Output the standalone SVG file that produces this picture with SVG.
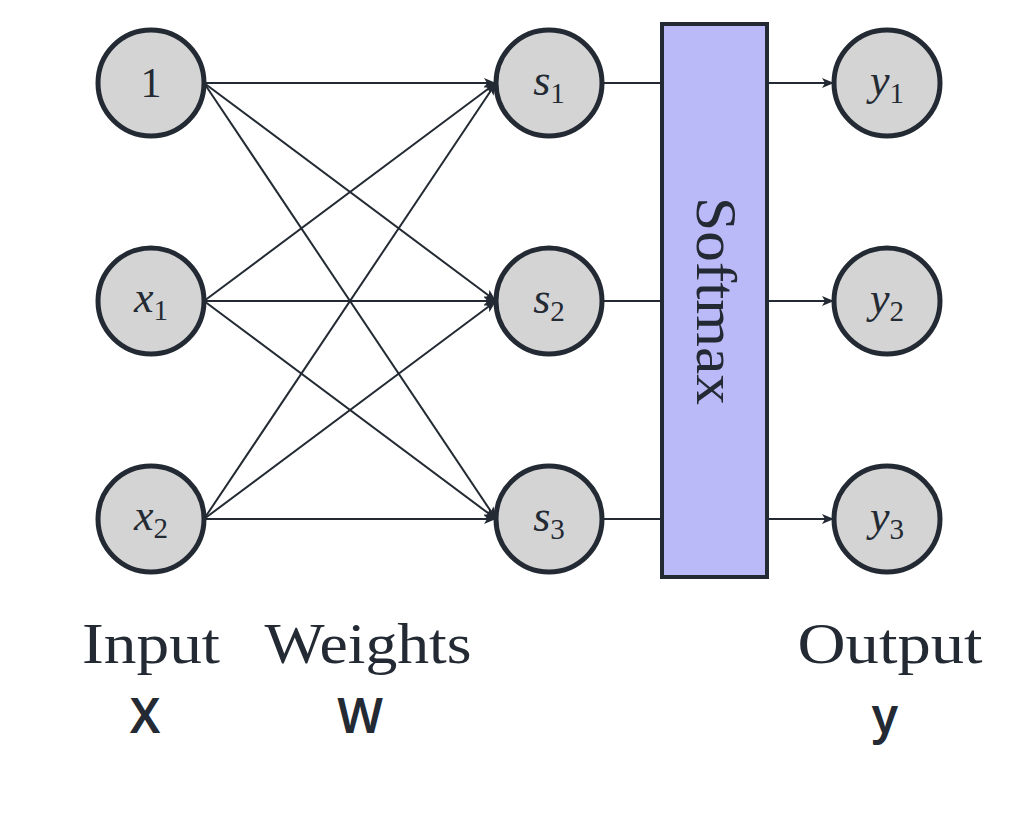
<svg xmlns="http://www.w3.org/2000/svg" width="1034" height="816" viewBox="0 0 1034 816">
<style>
.node{fill:#d4d4d4;stroke:#232a33;stroke-width:5}
.edge{stroke:#232a33;stroke-width:2;fill:none}
.lbl{font-family:"Liberation Serif",serif;font-style:italic;font-size:44px;fill:#232a33;text-anchor:middle}
.sub{font-size:29px;font-style:normal}
.cap{font-family:"Liberation Serif",serif;font-size:58px;fill:#232a33;text-anchor:middle}
.sym{font-family:"Noto Sans",sans-serif;font-size:48px;font-weight:600;fill:#232a33;text-anchor:middle}
</style>
<defs>
<marker id="ah" viewBox="0 0 12 10" refX="12" refY="5" markerWidth="12" markerHeight="10" markerUnits="userSpaceOnUse" orient="auto">
<path d="M0,0 L12,5 L0,10 L3,5 Z" fill="#232a33"/>
</marker>
</defs>
<rect width="1034" height="816" fill="#ffffff"/>
<g id="connectors">
<line class="edge" x1="204" y1="83" x2="496" y2="83" marker-end="url(#ah)"/>
<line class="edge" x1="204" y1="83" x2="496" y2="301" marker-end="url(#ah)"/>
<line class="edge" x1="204" y1="83" x2="496" y2="519" marker-end="url(#ah)"/>
<line class="edge" x1="204" y1="301" x2="496" y2="83" marker-end="url(#ah)"/>
<line class="edge" x1="204" y1="301" x2="496" y2="301" marker-end="url(#ah)"/>
<line class="edge" x1="204" y1="301" x2="496" y2="519" marker-end="url(#ah)"/>
<line class="edge" x1="204" y1="519" x2="496" y2="83" marker-end="url(#ah)"/>
<line class="edge" x1="204" y1="519" x2="496" y2="301" marker-end="url(#ah)"/>
<line class="edge" x1="204" y1="519" x2="496" y2="519" marker-end="url(#ah)"/>
<line class="edge" x1="602" y1="83" x2="662" y2="83"/>
<line class="edge" x1="602" y1="301" x2="662" y2="301"/>
<line class="edge" x1="602" y1="519" x2="662" y2="519"/>
<line class="edge" x1="767" y1="83" x2="834" y2="83" marker-end="url(#ah)"/>
<line class="edge" x1="767" y1="301" x2="834" y2="301" marker-end="url(#ah)"/>
<line class="edge" x1="767" y1="519" x2="834" y2="519" marker-end="url(#ah)"/>
</g>
<g id="in1"><circle class="node" cx="151" cy="83" r="53"/><text x="151" y="97" class="lbl" style="font-style:normal;font-size:42px">1</text></g>
<g id="in2"><circle class="node" cx="151" cy="301" r="53"/><text x="151" y="312" class="lbl">x<tspan class="sub" dy="8">1</tspan></text></g>
<g id="in3"><circle class="node" cx="151" cy="519" r="53"/><text x="151" y="530" class="lbl">x<tspan class="sub" dy="8">2</tspan></text></g>
<g id="s1"><circle class="node" cx="549" cy="83" r="53"/><text x="549" y="95" class="lbl">s<tspan class="sub" dy="8">1</tspan></text></g>
<g id="s2"><circle class="node" cx="549" cy="301" r="53"/><text x="549" y="313" class="lbl">s<tspan class="sub" dy="8">2</tspan></text></g>
<g id="s3"><circle class="node" cx="549" cy="519" r="53"/><text x="549" y="531" class="lbl">s<tspan class="sub" dy="8">3</tspan></text></g>
<g id="softmax">
<rect x="662" y="24" width="105" height="553" fill="#babaf8" stroke="#232a33" stroke-width="4"/>
<text class="cap" transform="translate(697,301) rotate(90)" x="0" y="0" textLength="208" lengthAdjust="spacingAndGlyphs">Softmax</text>
</g>
<g id="y1"><circle class="node" cx="887" cy="83" r="53"/><text x="887" y="95" class="lbl">y<tspan class="sub" dy="8">1</tspan></text></g>
<g id="y2"><circle class="node" cx="887" cy="301" r="53"/><text x="887" y="313" class="lbl">y<tspan class="sub" dy="8">2</tspan></text></g>
<g id="y3"><circle class="node" cx="887" cy="519" r="53"/><text x="887" y="531" class="lbl">y<tspan class="sub" dy="8">3</tspan></text></g>
<g id="labels">
<text class="cap" x="151" y="663" textLength="138" lengthAdjust="spacingAndGlyphs">Input</text>
<text class="cap" x="368" y="663" textLength="207" lengthAdjust="spacingAndGlyphs">Weights</text>
<text class="cap" x="890" y="663" textLength="185" lengthAdjust="spacingAndGlyphs">Output</text>
<text class="sym" x="145" y="733">X</text>
<text class="sym" x="360" y="733">W</text>
<text class="sym" x="885" y="733">y</text>
</g>
</svg>
